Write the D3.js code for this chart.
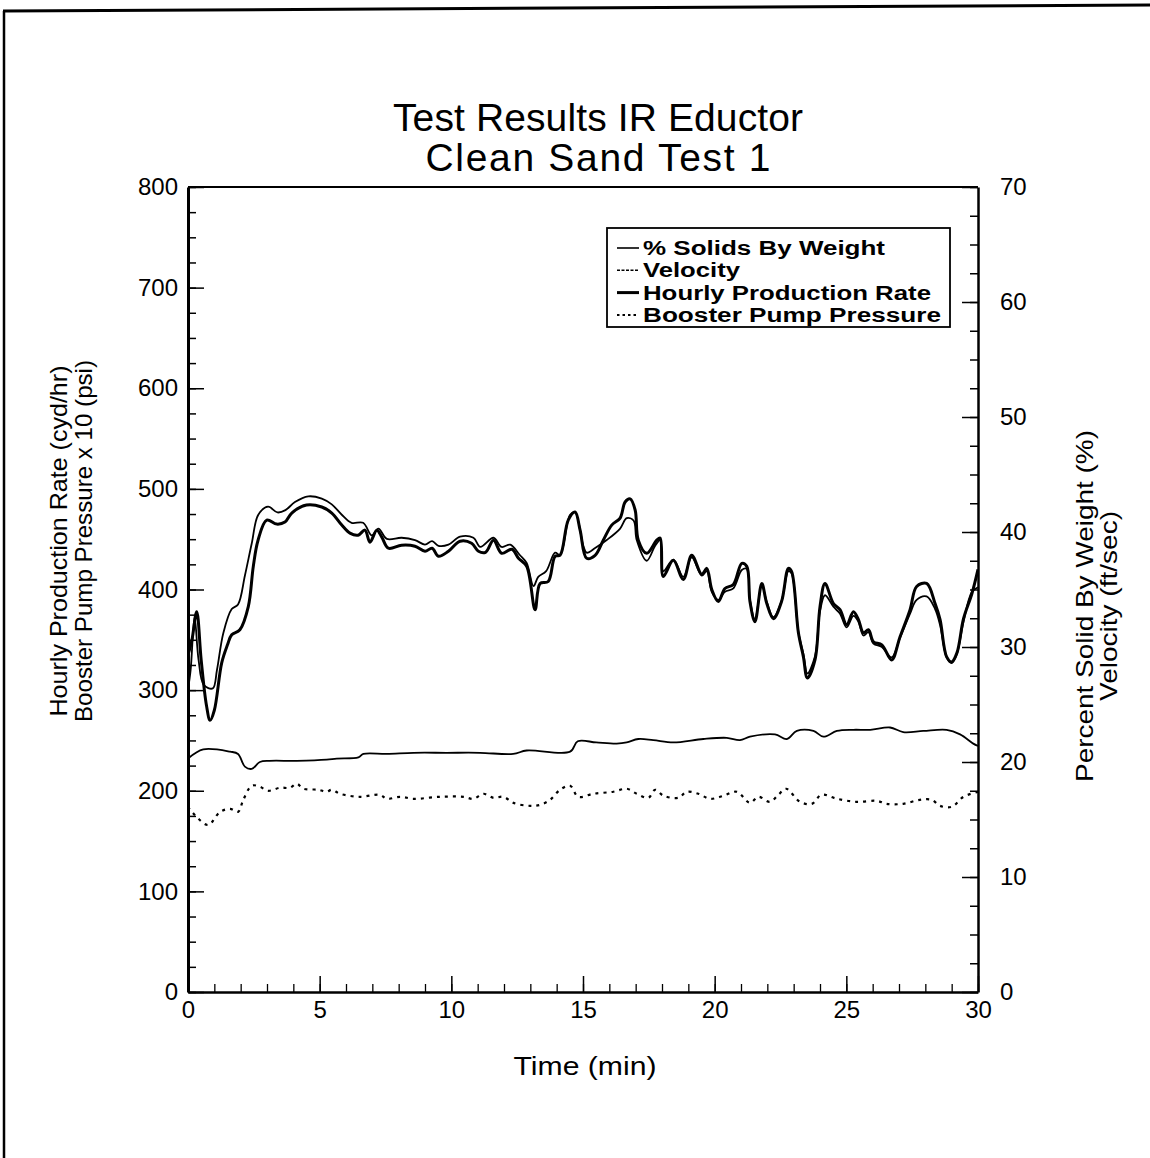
<!DOCTYPE html>
<html>
<head>
<meta charset="utf-8">
<script src="https://cdn.jsdelivr.net/npm/d3@7"></script>
<style>
  html, body { margin: 0; padding: 0; background: #fff; }
  svg { display: block; }
  text { font-family: "Liberation Sans", Arial, Helvetica, sans-serif; fill: #000; }
</style>
</head>
<body>
<svg id="chart" width="1150" height="1158"></svg>
<script>
// ---------------- DATA ----------------
const titleLines = ["Test Results IR Eductor", "Clean Sand Test 1"];
const xLabel = "Time (min)";
const leftLabels = ["Hourly Production Rate (cyd/hr)", "Booster Pump Pressure x 10 (psi)"];
const rightLabels = ["Percent Solid By Weight (%)", "Velocity (ft/sec)"];
const legendLabels = ["% Solids By Weight", "Velocity", "Hourly Production Rate", "Booster Pump Pressure"];

const xTicks = [0, 5, 10, 15, 20, 25, 30];
const leftTicks = [0, 100, 200, 300, 400, 500, 600, 700, 800];
const rightTicks = [0, 10, 20, 30, 40, 50, 60, 70];

// Hourly production rate (cyd/hr) - left axis
const prodTime = [0, 0.15, 0.33, 0.5, 0.7, 0.84, 1.0, 1.28, 1.5, 1.66, 1.97, 2.29, 2.48, 2.66, 2.99, 3.37, 3.68, 3.94, 4.5, 5.08, 5.46, 5.84, 6.15, 6.46, 6.72, 6.91, 7.17, 7.36, 7.61, 8.11, 8.62, 9.0, 9.27, 9.51, 9.89, 10.33, 10.77, 11.03, 11.3, 11.6, 11.91, 12.3, 12.55, 12.86, 13.18, 13.37, 13.68, 13.94, 14.13, 14.44, 14.7, 14.89, 15.14, 15.46, 15.77, 16.09, 16.41, 16.6, 16.79, 16.98, 17.1, 17.42, 17.8, 17.93, 18.05, 18.43, 18.81, 19.13, 19.51, 19.7, 19.89, 20.14, 20.39, 20.71, 21.03, 21.22, 21.34, 21.53, 21.79, 21.98, 22.23, 22.54, 22.8, 22.92, 23.18, 23.37, 23.52, 23.81, 24.0, 24.19, 24.51, 24.76, 25.01, 25.27, 25.46, 25.65, 25.84, 26.03, 26.35, 26.72, 27.04, 27.42, 27.67, 28.05, 28.37, 28.56, 28.81, 29.0, 29.2, 29.45, 29.77, 30.0];
const prodRate = [335, 350, 378, 330, 285, 270, 280, 327, 345, 355, 360, 383, 423, 449, 469, 465, 467, 476, 484, 482, 476, 464, 456, 454, 459, 447, 459, 452, 441, 444, 443, 438, 441, 433, 438, 448, 446, 438, 437, 449, 436, 440, 431, 423, 380, 406, 408, 433, 434, 469, 477, 459, 431, 434, 449, 464, 471, 487, 490, 479, 449, 436, 449, 451, 413, 429, 410, 434, 415, 421, 400, 388, 401, 405, 426, 423, 388, 368, 406, 386, 371, 388, 421, 418, 357, 333, 312, 330, 383, 406, 386, 380, 365, 378, 370, 357, 360, 348, 345, 330, 353, 380, 403, 406, 386, 370, 333, 328, 337, 371, 396, 420];

// % solids by weight - right axis
const solidsTime = [0, 0.1, 0.25, 0.4, 0.6, 0.94, 1.1, 1.34, 1.66, 1.9, 2.16, 2.42, 2.67, 3.04, 3.4, 3.7, 4.06, 4.57, 5.08, 5.46, 5.84, 6.21, 6.65, 6.98, 7.23, 7.55, 8.11, 8.62, 9.0, 9.27, 9.51, 9.89, 10.33, 10.84, 11.1, 11.6, 11.91, 12.24, 12.6, 12.86, 13.12, 13.3, 13.6, 13.94, 14.13, 14.51, 14.7, 15.01, 15.14, 15.46, 15.9, 16.41, 16.66, 16.92, 17.04, 17.42, 17.74, 17.93, 18.05, 18.43, 18.81, 19.13, 19.51, 19.7, 19.89, 20.14, 20.39, 20.71, 21.03, 21.22, 21.34, 21.53, 21.79, 21.98, 22.23, 22.54, 22.8, 22.92, 23.18, 23.37, 23.52, 23.81, 24.0, 24.19, 24.51, 24.76, 25.01, 25.27, 25.46, 25.65, 25.84, 26.03, 26.35, 26.72, 27.04, 27.42, 27.67, 28.05, 28.37, 28.56, 28.81, 29.0, 29.2, 29.45, 29.77, 30.0];
const solidsPct = [26.3, 28.0, 32.6, 28.9, 26.7, 26.4, 28.0, 31.2, 33.3, 33.7, 36.2, 39.0, 41.5, 42.2, 41.7, 41.9, 42.6, 43.1, 42.9, 42.4, 41.5, 40.8, 40.8, 39.7, 40.3, 39.4, 39.5, 39.3, 38.9, 39.2, 38.8, 38.9, 39.6, 39.5, 38.7, 39.5, 38.7, 38.9, 38.0, 37.3, 35.3, 36.1, 36.6, 38.2, 38.0, 41.5, 41.7, 38.8, 38.2, 38.6, 39.3, 40.3, 41.2, 41.0, 39.3, 37.5, 38.8, 39.3, 36.6, 37.6, 36.1, 37.8, 36.2, 36.6, 34.8, 34.1, 34.8, 35.1, 36.7, 36.8, 34.1, 32.4, 35.4, 33.9, 32.6, 34.0, 36.6, 36.4, 31.3, 29.4, 27.7, 29.2, 33.1, 34.5, 33.5, 32.9, 31.7, 32.7, 32.2, 31.0, 31.3, 30.3, 30.0, 29.1, 30.8, 32.9, 34.1, 34.4, 33.3, 31.9, 29.1, 28.6, 29.4, 32.2, 34.8, 35.2];

// Velocity (ft/sec) - right axis
const velTime = [0, 0.58, 1.6, 1.9, 2.16, 2.42, 2.73, 3.1, 4.13, 5.27, 5.65, 6.47, 6.66, 7.55, 8.56, 9.82, 11.09, 12.35, 12.86, 14.51, 14.8, 15.5, 16.28, 16.66, 17.1, 17.67, 18.43, 19.57, 20.46, 20.96, 21.34, 22.29, 22.74, 23.12, 23.75, 24.13, 24.64, 25.27, 25.91, 26.66, 27.16, 27.92, 28.81, 29.32, 29.82, 30.0];
const velocity = [20.3, 21.1, 20.9, 20.7, 19.6, 19.4, 20.0, 20.1, 20.1, 20.2, 20.3, 20.4, 20.7, 20.7, 20.8, 20.8, 20.8, 20.7, 21.0, 20.9, 21.8, 21.7, 21.6, 21.7, 22.0, 21.9, 21.7, 22.0, 22.1, 21.9, 22.2, 22.4, 22.0, 22.7, 22.7, 22.2, 22.7, 22.8, 22.8, 23.0, 22.6, 22.7, 22.8, 22.4, 21.6, 21.4];

// Booster pump pressure x 10 (psi) - left axis
const pressTime = [0, 0.4, 0.77, 1.22, 1.6, 1.9, 2.1, 2.42, 2.73, 3.04, 3.49, 3.87, 4.13, 4.38, 4.95, 5.27, 5.46, 5.77, 6.53, 7.29, 7.55, 8.05, 8.56, 9.57, 10.46, 10.84, 11.22, 11.6, 11.98, 12.35, 12.99, 13.37, 13.75, 14.13, 14.51, 14.82, 15.39, 16.15, 16.66, 17.04, 17.48, 17.74, 18.06, 18.62, 18.94, 19.38, 19.82, 20.33, 20.84, 21.34, 21.66, 22.1, 22.42, 22.71, 23.24, 23.69, 24.06, 24.64, 25.39, 26.15, 26.53, 27.16, 27.79, 28.24, 28.56, 29.0, 29.45, 30.0];
const pressure = [184, 172, 166, 179, 182, 179, 191, 205, 204, 200, 203, 203, 207, 202, 201, 199, 201, 197, 194, 196, 192, 194, 192, 194, 194, 192, 197, 193, 194, 188, 185, 186, 191, 201, 205, 194, 197, 199, 202, 197, 193, 201, 195, 193, 199, 197, 192, 195, 199, 188, 194, 189, 196, 202, 189, 187, 196, 192, 189, 190, 187, 187, 191, 191, 185, 184, 194, 199];

// ---------------- CHART ----------------
const W = 1150, H = 1158;
const plot = { left: 188, right: 978, top: 187, bottom: 992 };
const svg = d3.select("#chart");

const x = d3.scaleLinear().domain([0, 30]).range([plot.left, plot.right]);
const yL = d3.scaleLinear().domain([0, 800]).range([plot.bottom, plot.top]);
const yR = d3.scaleLinear().domain([0, 70]).range([plot.bottom, plot.top]);

// page frame (left and top edges of the scanned page border)
svg.append("line").attr("x1", 4).attr("y1", 11).attr("x2", 4).attr("y2", H)
  .attr("stroke", "#000").attr("stroke-width", 2.5);
svg.append("line").attr("x1", 3).attr("y1", 11).attr("x2", W).attr("y2", 5)
  .attr("stroke", "#000").attr("stroke-width", 3);

// title
const titleLen = [410, 345];
svg.append("g").selectAll("text").data(titleLines).join("text")
  .attr("x", 598).attr("y", (d, i) => 131 + i * 40)
  .attr("text-anchor", "middle").attr("font-size", 39)
  .attr("textLength", (d, i) => titleLen[i]).attr("lengthAdjust", "spacing")
  .text(d => d);

// plot box top line
svg.append("line").attr("x1", plot.left).attr("x2", plot.right)
  .attr("y1", plot.top).attr("y2", plot.top)
  .attr("stroke", "#000").attr("stroke-width", 2);

function styleAxis(g, w) {
  g.select(".domain").attr("stroke-width", w);
  g.selectAll(".tick line").attr("stroke-width", 1.5);
  g.selectAll(".tick text").attr("font-size", 24)
    .style("font-family", '"Liberation Sans", Arial, sans-serif');
}

// x axis - minor
const gxMinor = svg.append("g").attr("transform", `translate(0,${plot.bottom})`)
  .call(d3.axisBottom(x).tickValues(d3.range(0, 31, 1)).tickSize(-8).tickFormat(""));
gxMinor.select(".domain").remove();
gxMinor.selectAll(".tick line").attr("stroke-width", 1.3);
// x axis - major
const gx = svg.append("g").attr("transform", `translate(0,${plot.bottom})`)
  .call(d3.axisBottom(x).tickValues(xTicks).tickSize(-16).tickSizeOuter(0).tickPadding(9).tickFormat(d3.format("d")));
styleAxis(gx, 2.5);

// left axis - minor
const gyMinor = svg.append("g").attr("transform", `translate(${plot.left},0)`)
  .call(d3.axisLeft(yL).tickValues(d3.range(0, 801, 25)).tickSize(-8).tickFormat(""));
gyMinor.select(".domain").remove();
gyMinor.selectAll(".tick line").attr("stroke-width", 1.5);
// left axis - major
const gy = svg.append("g").attr("transform", `translate(${plot.left},0)`)
  .call(d3.axisLeft(yL).tickValues(leftTicks).tickSize(-16).tickSizeOuter(0).tickPadding(10).tickFormat(d3.format("d")));
styleAxis(gy, 3);

// right axis - minor
const grMinor = svg.append("g").attr("transform", `translate(${plot.right},0)`)
  .call(d3.axisRight(yR).tickValues(d3.range(0, 70.1, 2.5)).tickSize(-8).tickFormat(""));
grMinor.select(".domain").remove();
grMinor.selectAll(".tick line").attr("stroke-width", 1.5);
// right axis - major
const gr = svg.append("g").attr("transform", `translate(${plot.right},0)`)
  .call(d3.axisRight(yR).tickValues(rightTicks).tickSize(-16).tickSizeOuter(0).tickPadding(22).tickFormat(d3.format("d")));
styleAxis(gr, 2.5);

// axis titles
svg.append("text").attr("x", 585).attr("y", 1075).attr("text-anchor", "middle")
  .attr("font-size", 25).attr("textLength", 143).attr("lengthAdjust", "spacingAndGlyphs").text(xLabel);

const leftLen = [351, 362];
svg.append("g").selectAll("text").data(leftLabels).join("text")
  .attr("transform", (d, i) => `translate(${67 + i * 25},541) rotate(-90)`)
  .attr("text-anchor", "middle").attr("font-size", 24)
  .attr("textLength", (d, i) => leftLen[i]).attr("lengthAdjust", "spacingAndGlyphs")
  .text(d => d);

const rightLen = [352, 190];
svg.append("g").selectAll("text").data(rightLabels).join("text")
  .attr("transform", (d, i) => `translate(${1093 + i * 24},606) rotate(-90)`)
  .attr("text-anchor", "middle").attr("font-size", 24)
  .attr("textLength", (d, i) => rightLen[i]).attr("lengthAdjust", "spacingAndGlyphs")
  .text(d => d);

// lines
const clip = svg.append("clipPath").attr("id", "clip").append("rect")
  .attr("x", plot.left).attr("y", plot.top).attr("width", plot.right - plot.left).attr("height", plot.bottom - plot.top);
const lines = svg.append("g").attr("clip-path", "url(#clip)");

const lineL = d3.line().x(d => x(d[0])).y(d => yL(d[1])).curve(d3.curveCatmullRom.alpha(0.5));
const lineR = d3.line().x(d => x(d[0])).y(d => yR(d[1])).curve(d3.curveCatmullRom.alpha(0.5));

lines.append("path").datum(d3.zip(solidsTime, solidsPct)).attr("d", lineR)
  .attr("fill", "none").attr("stroke", "#000").attr("stroke-width", 1.8).attr("stroke-linejoin", "round");
lines.append("path").datum(d3.zip(velTime, velocity)).attr("d", lineR)
  .attr("fill", "none").attr("stroke", "#000").attr("stroke-width", 1.8).attr("stroke-linejoin", "round");
lines.append("path").datum(d3.zip(prodTime, prodRate)).attr("d", lineL)
  .attr("fill", "none").attr("stroke", "#000").attr("stroke-width", 3).attr("stroke-linejoin", "round");
lines.append("path").datum(d3.zip(pressTime, pressure)).attr("d", lineL)
  .attr("fill", "none").attr("stroke", "#000").attr("stroke-width", 2.2).attr("stroke-dasharray", "3,5");

// legend
const leg = svg.append("g");
leg.append("rect").attr("x", 607).attr("y", 228).attr("width", 343).attr("height", 99)
  .attr("fill", "#fff").attr("stroke", "#000").attr("stroke-width", 1.8);
const legStyles = [
  { w: 1.6, dash: null },
  { w: 1.6, dash: "3,1.5" },
  { w: 3, dash: null },
  { w: 2, dash: "2.5,3" }
];
const legLen = [242, 97, 288, 298];
const rows = leg.selectAll("g.row").data(legendLabels).join("g").attr("class", "row")
  .attr("transform", (d, i) => `translate(0,${255 + i * 22.3})`);
rows.append("line").attr("x1", 617).attr("x2", 639).attr("y1", -7).attr("y2", -7)
  .attr("stroke", "#000")
  .attr("stroke-width", (d, i) => legStyles[i].w)
  .attr("stroke-dasharray", (d, i) => legStyles[i].dash);
rows.append("text").attr("x", 643).attr("y", 0).attr("font-size", 20).attr("font-weight", "bold")
  .attr("textLength", (d, i) => legLen[i]).attr("lengthAdjust", "spacingAndGlyphs")
  .text(d => d);
</script>
</body>
</html>
